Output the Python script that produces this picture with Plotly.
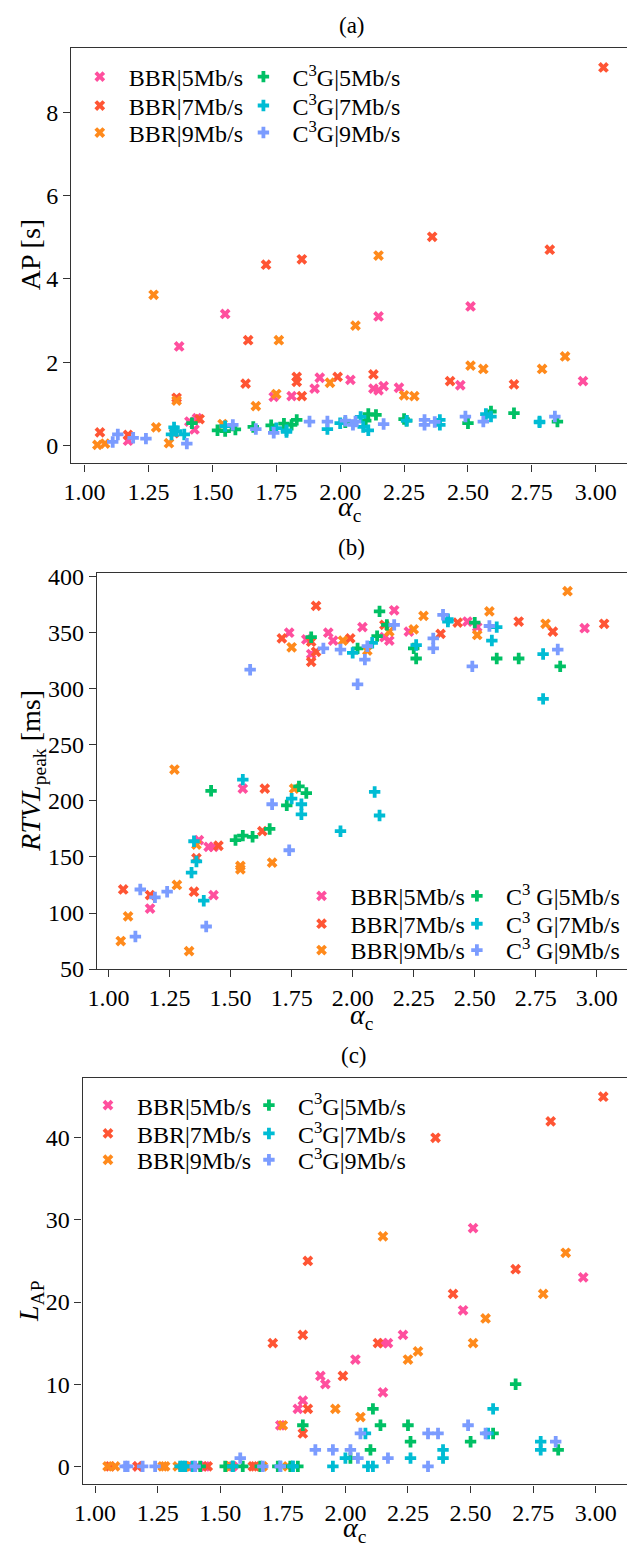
import plotly.graph_objects as go

W, H = 627, 1552
FONT = "Liberation Serif"

# ---------------- data: alpha_c (x) and metric (y) per series ----------------
# Panel (a): AP [s]
A_BBR5_X = [1.17, 1.37, 1.41, 1.43, 1.44, 1.55, 1.74, 1.81, 1.90, 1.92, 2.04, 2.13, 2.15, 2.15, 2.17, 2.23, 2.47, 2.51, 2.95]
A_BBR5_Y = [0.12, 2.38, 0.58, 0.39, 0.66, 3.16, 1.17, 1.19, 1.37, 1.63, 1.58, 1.37, 1.33, 3.10, 1.43, 1.39, 1.45, 3.34, 1.55]
A_BBR7_X = [1.06, 1.17, 1.35, 1.36, 1.45, 1.63, 1.64, 1.71, 1.83, 1.83, 1.85, 1.85, 1.99, 2.13, 2.36, 2.43, 2.68, 2.82, 3.03]
A_BBR7_Y = [0.32, 0.26, 0.30, 1.15, 0.64, 1.49, 2.53, 4.34, 1.65, 1.53, 4.47, 1.19, 1.65, 1.71, 5.01, 1.55, 1.47, 4.70, 9.07]
A_BBR9_X = [1.05, 1.08, 1.27, 1.28, 1.33, 1.36, 1.54, 1.67, 1.75, 1.76, 1.96, 2.06, 2.15, 2.25, 2.29, 2.51, 2.56, 2.79, 2.88]
A_BBR9_Y = [0.02, 0.05, 3.62, 0.44, 0.06, 1.08, 0.52, 0.95, 1.24, 2.53, 1.51, 2.88, 4.56, 1.21, 1.19, 1.92, 1.84, 1.84, 2.14]
A_C3G5_X = [1.42, 1.52, 1.55, 1.59, 1.66, 1.73, 1.78, 1.81, 1.83, 2.02, 2.10, 2.11, 2.14, 2.25, 2.26, 2.50, 2.59, 2.68, 2.85]
A_C3G5_Y = [0.54, 0.37, 0.35, 0.39, 0.45, 0.49, 0.53, 0.50, 0.62, 0.56, 0.60, 0.76, 0.74, 0.64, 0.60, 0.54, 0.82, 0.78, 0.58]
A_C3G7_X = [1.34, 1.35, 1.36, 1.39, 1.55, 1.75, 1.79, 1.79, 1.95, 2.00, 2.08, 2.09, 2.11, 2.26, 2.39, 2.39, 2.57, 2.59, 2.78, 2.78]
A_C3G7_Y = [0.27, 0.44, 0.35, 0.27, 0.47, 0.42, 0.37, 0.33, 0.40, 0.54, 0.69, 0.45, 0.37, 0.60, 0.62, 0.50, 0.76, 0.70, 0.56, 0.58]
A_C3G9_X = [1.11, 1.13, 1.19, 1.24, 1.40, 1.58, 1.67, 1.74, 1.88, 1.95, 2.02, 2.05, 2.06, 2.17, 2.33, 2.33, 2.37, 2.49, 2.56, 2.84]
A_C3G9_Y = [0.09, 0.27, 0.19, 0.17, 0.05, 0.50, 0.40, 0.31, 0.58, 0.58, 0.60, 0.50, 0.58, 0.52, 0.62, 0.50, 0.57, 0.70, 0.58, 0.70]

# Panel (b): RTVL_peak [ms]
B_BBR5_X = [1.17, 1.37, 1.41, 1.43, 1.43, 1.55, 1.74, 1.81, 1.83, 1.90, 1.92, 2.04, 2.13, 2.15, 2.17, 2.23, 2.47, 2.51, 2.95]
B_BBR5_Y = [104, 165, 159, 159, 116, 211, 350, 344, 331, 350, 343, 355, 346, 343, 370, 351, 360, 355, 354]
B_BBR7_X = [1.06, 1.17, 1.35, 1.36, 1.45, 1.63, 1.64, 1.71, 1.83, 1.83, 1.85, 1.85, 1.99, 2.13, 2.36, 2.43, 2.68, 2.82, 3.03]
B_BBR7_Y = [121, 116, 119, 149, 160, 173, 211, 345, 342, 324, 374, 333, 345, 357, 349, 359, 360, 351, 358]
B_BBR9_X = [1.05, 1.08, 1.27, 1.28, 1.33, 1.36, 1.54, 1.54, 1.67, 1.75, 1.76, 1.96, 2.06, 2.15, 2.25, 2.29, 2.51, 2.56, 2.79, 2.88]
B_BBR9_Y = [75, 97, 228, 125, 66, 161, 142, 139, 145, 337, 211, 343, 334, 351, 353, 365, 348, 369, 358, 387]
B_C3G5_X = [1.42, 1.52, 1.55, 1.59, 1.66, 1.73, 1.78, 1.81, 1.83, 2.02, 2.10, 2.11, 2.14, 2.25, 2.26, 2.50, 2.59, 2.68, 2.85]
B_C3G5_Y = [209, 165, 169, 168, 175, 196, 213, 207, 346, 336, 347, 369, 357, 336, 327, 359, 327, 327, 320]
B_C3G7_X = [1.34, 1.35, 1.36, 1.39, 1.55, 1.75, 1.79, 1.79, 1.95, 2.00, 2.08, 2.09, 2.11, 2.26, 2.39, 2.39, 2.57, 2.59, 2.78, 2.78]
B_C3G7_Y = [136, 164, 146, 111, 219, 202, 197, 188, 173, 332, 341, 208, 187, 339, 362, 360, 343, 355, 331, 291]
B_C3G9_X = [1.11, 1.13, 1.19, 1.24, 1.40, 1.58, 1.67, 1.74, 1.88, 1.95, 2.02, 2.05, 2.06, 2.17, 2.33, 2.33, 2.37, 2.49, 2.56, 2.84]
B_C3G9_Y = [79, 121, 114, 119, 88, 317, 197, 156, 336, 335, 304, 326, 338, 357, 345, 336, 366, 320, 356, 335]

# Panel (c): L_AP
C_BBR5_X = [1.17, 1.37, 1.41, 1.43, 1.44, 1.55, 1.74, 1.81, 1.83, 1.90, 1.92, 2.04, 2.15, 2.15, 2.17, 2.23, 2.47, 2.51, 2.95]
C_BBR5_Y = [0, 0, 0, 0, 0, 0, 5, 7, 8, 11, 10, 13, 9, 15, 15, 16, 19, 29, 23]
C_BBR7_X = [1.06, 1.17, 1.35, 1.36, 1.45, 1.63, 1.64, 1.71, 1.83, 1.83, 1.85, 1.85, 1.99, 2.13, 2.36, 2.43, 2.68, 2.82, 3.03]
C_BBR7_Y = [0, 0, 0, 0, 0, 0, 0, 15, 16, 4, 25, 7, 11, 15, 40, 21, 24, 42, 45]
C_BBR9_X = [1.05, 1.08, 1.27, 1.28, 1.33, 1.36, 1.54, 1.54, 1.67, 1.75, 1.77, 1.96, 2.06, 2.15, 2.25, 2.29, 2.51, 2.56, 2.79, 2.88]
C_BBR9_Y = [0, 0, 0, 0, 0, 0, 0, 0, 0, 5, 0, 7, 6, 28, 13, 14, 15, 18, 21, 26]
C_C3G5_X = [1.42, 1.52, 1.55, 1.59, 1.66, 1.73, 1.78, 1.81, 1.83, 2.02, 2.10, 2.11, 2.14, 2.25, 2.26, 2.50, 2.59, 2.68, 2.85]
C_C3G5_Y = [0, 0, 0, 0, 0, 0, 0, 0, 5, 1, 2, 7, 5, 5, 3, 3, 4, 10, 2]
C_C3G7_X = [1.34, 1.35, 1.36, 1.39, 1.55, 1.74, 1.79, 1.79, 1.95, 2.00, 2.08, 2.09, 2.11, 2.26, 2.39, 2.39, 2.57, 2.59, 2.78, 2.78]
C_C3G7_Y = [0, 0, 0, 0, 0, 0, 0, 0, 0, 1, 4, 0, 0, 1, 2, 1, 4, 7, 3, 2]
C_C3G9_X = [1.12, 1.13, 1.19, 1.24, 1.40, 1.58, 1.67, 1.74, 1.88, 1.95, 2.02, 2.05, 2.06, 2.17, 2.33, 2.33, 2.37, 2.49, 2.56, 2.84]
C_C3G9_Y = [0, 0, 0, 0, 0, 1, 0, 0, 2, 2, 2, 1, 4, 1, 4, 0, 4, 5, 4, 3]

X_TICKS = [1.00, 1.25, 1.50, 1.75, 2.00, 2.25, 2.50, 2.75, 3.00]

LABELS_AC = ["BBR|5Mb/s", "BBR|7Mb/s", "BBR|9Mb/s",
             "C<sup>3</sup>G|5Mb/s", "C<sup>3</sup>G|7Mb/s", "C<sup>3</sup>G|9Mb/s"]
LABELS_B = ["BBR|5Mb/s", "BBR|7Mb/s", "BBR|9Mb/s",
            "C<sup>3</sup> G|5Mb/s", "C<sup>3</sup> G|7Mb/s", "C<sup>3</sup> G|9Mb/s"]

# ---------------- styling ----------------
COLORS = ["#FF4F9E", "#FF5534", "#FF8A1C", "#00C064", "#00BCD4", "#7B9CFF"]
SYMBOLS = ["x", "x", "x", "cross", "cross", "cross"]
MARKER_SIZE = 9.5
AXIS_COLOR = "#333333"


def px_x(v):
    return v / W


def px_y(v):
    return 1 - v / H


panels = [
    dict(series=[(A_BBR5_X, A_BBR5_Y), (A_BBR7_X, A_BBR7_Y), (A_BBR9_X, A_BBR9_Y),
                 (A_C3G5_X, A_C3G5_Y), (A_C3G7_X, A_C3G7_Y), (A_C3G9_X, A_C3G9_Y)],
         labels=LABELS_AC, box=(63, 40, 627, 461), xrange=(0.9472, 3.1222),
         yrange=(-0.4255, 9.527), yticks=[0, 2, 4, 6, 8],
         title="(a)", title_at=(347.8, 16.7),
         ylabel="AP [s]", ylabel_at=(22, 249), xlabel_at=(346, 507),
         leg_cols=(91.7, 257.7), leg_rows=(69, 98.3, 125.7)),
    dict(series=[(B_BBR5_X, B_BBR5_Y), (B_BBR7_X, B_BBR7_Y), (B_BBR9_X, B_BBR9_Y),
                 (B_C3G5_X, B_C3G5_Y), (B_C3G7_X, B_C3G7_Y), (B_C3G9_X, B_C3G9_Y)],
         labels=LABELS_B, box=(89.3, 572.3, 627, 974), xrange=(0.9528, 3.1236),
         yrange=(49.9, 403.1), yticks=[50, 100, 150, 200, 250, 300, 350, 400],
         title="(b)", title_at=(347.5, 546),
         ylabel="<i>RTVL</i><sub>peak</sub> [ms]", ylabel_at=(23, 773), xlabel_at=(358, 1022),
         leg_cols=(316.7, 474.3), leg_rows=(900, 928.3, 955)),
    dict(series=[(C_BBR5_X, C_BBR5_Y), (C_BBR7_X, C_BBR7_Y), (C_BBR9_X, C_BBR9_Y),
                 (C_C3G5_X, C_C3G5_Y), (C_C3G7_X, C_C3G7_Y), (C_C3G9_X, C_C3G9_Y)],
         labels=LABELS_AC, box=(74.7, 1084, 627, 1496.7), xrange=(0.9504, 3.1248),
         yrange=(-2.21, 47.32), yticks=[0, 10, 20, 30, 40],
         title="(c)", title_at=(350, 1062),
         ylabel="<i>L</i><sub>AP</sub>", ylabel_at=(22, 1311), xlabel_at=(351, 1542),
         leg_cols=(100, 263.3), leg_rows=(1112.3, 1141, 1167.7)),
]

fig = go.Figure()
layout = dict(
    width=W, height=H,
    margin=dict(l=0, r=0, t=0, b=0),
    paper_bgcolor="white", plot_bgcolor="white",
    font=dict(family=FONT, size=24, color="black"),
    annotations=[],
)

ITEM_WIDTH = 48
SYMBOL_CENTER = (ITEM_WIDTH + 10) / 2
legend_count = 0

for i, p in enumerate(panels, start=1):
    sfx = "" if i == 1 else str(i)
    x0, y0, x1, y1 = p["box"]
    common = dict(
        showline=True, linecolor=AXIS_COLOR, linewidth=1.3,
        ticks="outside", ticklen=7, tickwidth=1.3, tickcolor=AXIS_COLOR,
        tickfont=dict(family=FONT, size=24, color="black"),
        showgrid=False, zeroline=False,
    )
    layout["xaxis" + sfx] = dict(
        common, domain=[px_x(x0), px_x(x1)], range=list(p["xrange"]),
        anchor="y" + sfx, mirror=True,
        tickvals=X_TICKS, ticktext=[f"{t:.2f}" for t in X_TICKS],
    )
    layout["yaxis" + sfx] = dict(
        common, domain=[px_y(y1), px_y(y0)], range=list(p["yrange"]),
        anchor="x" + sfx, tickvals=p["yticks"],
    )

    for k, ((xs, ys), label) in enumerate(zip(p["series"], p["labels"])):
        legend_count += 1
        lid = "legend" if legend_count == 1 else f"legend{legend_count}"
        fig.add_trace(go.Scatter(
            x=xs, y=ys, mode="markers", name=label,
            xaxis="x" + sfx, yaxis="y" + sfx, legend=lid, showlegend=True,
            marker=dict(symbol=SYMBOLS[k], size=MARKER_SIZE, color=COLORS[k],
                        line=dict(width=0)),
            hoverinfo="skip",
        ))
        cx = p["leg_cols"][k // 3]
        cy = p["leg_rows"][k % 3]
        layout[lid] = dict(
            x=px_x(cx - SYMBOL_CENTER), y=px_y(cy),
            xanchor="left", yanchor="middle",
            bgcolor="rgba(0,0,0,0)", borderwidth=0,
            itemwidth=ITEM_WIDTH,
            font=dict(family=FONT, size=24, color="black"),
        )

    layout["annotations"] += [
        dict(text=p["title"], x=px_x(p["title_at"][0]), y=px_y(p["title_at"][1]),
             xref="paper", yref="paper", showarrow=False,
             xanchor="center", yanchor="middle",
             font=dict(family=FONT, size=23, color="black")),
        dict(text=p["ylabel"], x=px_x(p["ylabel_at"][0]), y=px_y(p["ylabel_at"][1]),
             xref="paper", yref="paper", showarrow=False, textangle=-90,
             xanchor="center", yanchor="middle",
             font=dict(family=FONT, size=28, color="black")),
        dict(text="<i>α</i><sub>c</sub>", x=px_x(p["xlabel_at"][0]), y=px_y(p["xlabel_at"][1]),
             xref="paper", yref="paper", showarrow=False,
             xanchor="center", yanchor="middle",
             font=dict(family=FONT, size=28, color="black")),
    ]

fig.update_layout(**layout)
fig.write_html("out.html")
